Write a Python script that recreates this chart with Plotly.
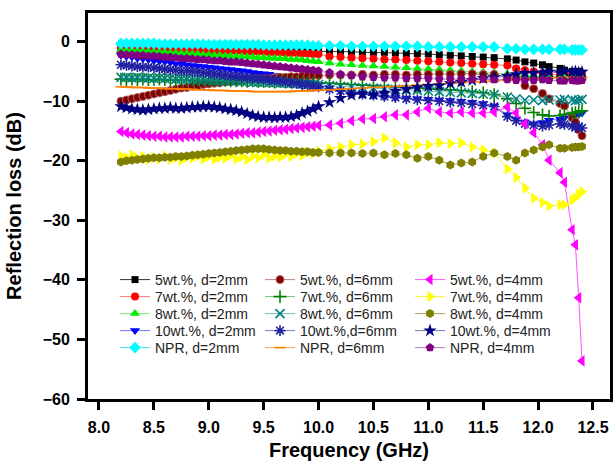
import plotly.graph_objects as go

# ---------------- data ----------------
freq = [8.20, 8.25, 8.30, 8.35, 8.40, 8.45, 8.50, 8.55, 8.60, 8.65, 8.70, 8.75, 8.80,
        8.85, 8.90, 8.95, 9.00, 9.05, 9.10, 9.15, 9.20, 9.25, 9.30, 9.35, 9.40, 9.45,
        9.50, 9.55, 9.60, 9.65, 9.70, 9.75, 9.80, 9.85, 9.90, 9.95, 10.00,
        10.1, 10.2, 10.3, 10.4, 10.5, 10.6, 10.7, 10.8, 10.9, 11.0, 11.1, 11.2, 11.3,
        11.4, 11.5, 11.6,
        11.72, 11.80, 11.88, 11.96, 12.04, 12.10,
        12.20, 12.24, 12.31, 12.34, 12.37, 12.40]

rl_5wt_2mm = [-1.0, -1.0, -1.0, -1.1, -1.1, -1.1, -1.1, -1.2, -1.2, -1.2, -1.2, -1.2, -1.3,
              -1.3, -1.3, -1.3, -1.3, -1.3, -1.4, -1.4, -1.4, -1.4, -1.4, -1.4, -1.4, -1.5,
              -1.5, -1.5, -1.5, -1.5, -1.5, -1.5, -1.6, -1.6, -1.6, -1.6, -1.6,
              -1.7, -1.7, -1.7, -1.8, -1.8, -1.8, -1.9, -2.0, -2.0, -2.1, -2.2, -2.3, -2.4,
              -2.5, -2.6, -2.7,
              -2.9, -3.1, -3.4, -3.6, -3.9, -4.2,
              -4.5, -4.8, -5.0, -5.2, -5.0, -5.3]
rl_7wt_2mm = [-1.2, -1.2, -1.2, -1.2, -1.3, -1.3, -1.3, -1.3, -1.3, -1.4, -1.4, -1.4, -1.4,
              -1.4, -1.5, -1.5, -1.5, -1.5, -1.5, -1.6, -1.6, -1.6, -1.6, -1.7, -1.7, -1.7,
              -1.7, -1.8, -1.8, -1.8, -1.9, -1.9, -1.9, -2.0, -2.0, -2.1, -2.1,
              -2.5, -2.6, -2.7, -2.8, -2.9, -3.0, -3.0, -3.1, -3.2, -3.3, -3.4, -3.5, -3.6,
              -3.7, -3.8, -3.9,
              -4.0, -4.5, -4.8, -5.0, -5.3, -5.6,
              -5.5, -5.6, -5.4, -5.6, -5.5, -5.7]
rl_8wt_2mm = [-1.4, -1.5, -1.5, -1.6, -1.6, -1.7, -1.7, -1.8, -1.8, -1.9, -1.9, -2.0, -2.0,
              -2.1, -2.1, -2.2, -2.2, -2.3, -2.3, -2.4, -2.4, -2.5, -2.5, -2.6, -2.6, -2.7,
              -2.7, -2.8, -2.8, -2.9, -2.9, -3.0, -3.0, -3.1, -3.2, -3.3, -3.4,
              -3.6, -3.8, -3.9, -4.0, -4.1, -4.2, -4.3, -4.4, -4.5, -4.6, -4.7, -4.8, -4.9,
              -5.0, -5.1, -5.2,
              -5.4, -5.5, -5.6, -5.7, -5.8, -5.9,
              -5.8, -5.9, -6.0, -5.9, -6.0, -6.1]
rl_10wt_2mm = [-2.3, -2.5, -2.6, -2.8, -2.9, -3.0, -3.2, -3.3, -3.4, -3.5, -3.7, -3.8, -3.9,
               -4.0, -4.1, -4.2, -4.3, -4.4, -4.5, -4.6, -4.7, -4.8, -4.9, -5.0, -5.2, -5.3,
               -5.4, -5.5, -5.7, -5.8, -6.0, -6.2, -6.4, -6.6, -6.8, -7.0, -7.2,
               -7.8, -8.3, -8.6, -8.9, -9.1, -9.3, -9.4, -9.5, -9.6, -9.7, -9.8, -9.9, -10.0,
               -10.2, -10.4, -10.8,
               -12.3, -13.0, -13.5, -13.8, -13.6, -13.2,
               -13.0, -12.8, -12.5, -12.3, -12.2, -12.0]
rl_npr_2mm = [-0.3, -0.3, -0.3, -0.3, -0.3, -0.3, -0.3, -0.4, -0.4, -0.4, -0.4, -0.4, -0.4,
              -0.4, -0.4, -0.4, -0.5, -0.5, -0.5, -0.5, -0.5, -0.5, -0.5, -0.5, -0.5, -0.5,
              -0.6, -0.6, -0.6, -0.6, -0.6, -0.6, -0.6, -0.6, -0.6, -0.7, -0.7,
              -0.7, -0.7, -0.8, -0.8, -0.8, -0.8, -0.8, -0.8, -0.8, -0.9, -0.9, -0.9, -0.9,
              -0.9, -0.9, -0.9,
              -1.2, -1.2, -1.3, -1.3, -1.3, -1.3,
              -1.3, -1.3, -1.4, -1.4, -1.4, -1.4]

rl_5wt_6mm = [-10.0, -9.8, -9.6, -9.4, -9.2, -9.0, -8.8, -8.6, -8.4, -8.2, -8.0, -7.8, -7.7,
              -7.5, -7.4, -7.2, -7.1, -7.0, -6.9, -6.8, -6.7, -6.6, -6.5, -6.4, -6.4, -6.3,
              -6.2, -6.2, -6.1, -6.0, -6.0, -5.9, -5.9, -5.8, -5.8, -5.7, -5.7,
              -5.6, -5.6, -5.6, -5.5, -5.6, -5.5, -5.5, -5.6, -5.5, -5.5, -5.4, -5.5, -5.4,
              -5.4, -5.5, -5.5,
              -5.9, -6.1, -7.4, -7.9, -8.7, -9.6,
              -10.4, -10.8, -12.8, -13.5, -14.8, -15.8]
rl_7wt_6mm = [-6.3, -6.4, -6.3, -6.4, -6.3, -6.4, -6.4, -6.3, -6.4, -6.4, -6.5, -6.4, -6.4,
              -6.5, -6.4, -6.5, -6.5, -6.5, -6.6, -6.5, -6.6, -6.6, -6.6, -6.7, -6.6, -6.7,
              -6.7, -6.7, -6.8, -6.7, -6.8, -6.8, -6.8, -6.9, -6.9, -6.9, -7.0,
              -7.0, -7.1, -7.2, -7.3, -7.4, -7.5, -7.6, -7.7, -7.8, -7.9, -8.0, -8.1, -8.2,
              -8.4, -8.6, -8.9,
              -9.6, -10.4, -11.2, -11.9, -12.3, -12.5,
              -12.4, -12.2, -12.0, -11.9, -11.8, -11.6]
rl_8wt_6mm = [-6.0, -6.0, -6.1, -6.0, -6.1, -6.1, -6.2, -6.1, -6.2, -6.2, -6.3, -6.3, -6.3,
              -6.4, -6.4, -6.4, -6.5, -6.5, -6.5, -6.6, -6.6, -6.6, -6.7, -6.7, -6.8, -6.8,
              -6.8, -6.9, -6.9, -7.0, -7.0, -7.0, -7.1, -7.1, -7.2, -7.2, -7.2,
              -7.4, -7.5, -7.6, -7.7, -7.8, -7.9, -8.0, -8.1, -8.2, -8.3, -8.4, -8.5, -8.6,
              -8.7, -8.8, -8.9,
              -9.3, -9.6, -9.8, -9.8, -9.9, -9.8,
              -9.8, -9.7, -9.8, -9.9, -9.8, -9.7]
rl_10wt_6mm = [-3.9, -4.0, -4.1, -4.2, -4.3, -4.3, -4.4, -4.5, -4.6, -4.7, -4.8, -4.9, -4.9,
               -5.0, -5.1, -5.2, -5.3, -5.4, -5.5, -5.6, -5.7, -5.8, -5.9, -6.0, -6.1, -6.2,
               -6.3, -6.4, -6.5, -6.6, -6.8, -6.9, -7.0, -7.2, -7.3, -7.5, -7.6,
               -8.0, -8.3, -8.6, -8.8, -9.0, -9.2, -9.4, -9.6, -9.8, -9.9, -10.0, -10.2, -10.3,
               -10.5, -10.7, -10.9,
               -12.6, -13.3, -13.8, -14.0, -14.2, -14.0,
               -13.8, -13.9, -14.2, -14.4, -14.3, -14.5]
rl_npr_6mm = [-7.6, -7.6, -7.7, -7.7, -7.7, -7.8, -7.8, -7.8, -7.9, -7.9, -7.9, -8.0, -8.0,
              -8.0, -8.1, -8.1, -8.1, -8.2, -8.2, -8.2, -8.3, -8.3, -8.3, -8.3, -8.4, -8.4,
              -8.4, -8.4, -8.4, -8.4, -8.4, -8.4, -8.3, -8.3, -8.3, -8.2, -8.2,
              -8.1, -8.0, -7.9, -7.8, -7.7, -7.6, -7.5, -7.4, -7.3, -7.2, -7.1, -7.0, -6.9,
              -6.8, -6.7, -6.6,
              -6.4, -6.3, -6.2, -6.2, -6.1, -6.1,
              -6.0, -6.0, -6.0, -6.1, -6.0, -6.0]

rl_5wt_4mm = [-15.1, -15.3, -15.5, -15.6, -15.7, -15.8, -15.9, -15.9, -16.0, -16.0, -16.0, -16.0, -15.9,
              -15.9, -15.9, -15.8, -15.8, -15.7, -15.7, -15.6, -15.6, -15.5, -15.4, -15.3, -15.3, -15.2,
              -15.1, -15.0, -14.9, -14.8, -14.7, -14.6, -14.5, -14.4, -14.3, -14.2, -14.1,
              -14.0, -13.7, -13.3, -13.0, -12.9, -12.6, -12.3, -12.3, -11.8, -11.2, -11.8, -12.0, -11.8,
              -12.0, -12.0, -11.8,
              -11.0, -12.0, -13.8, -15.3, -17.3, -19.9,
              -22.0, -23.6, -31.6, -34.1, -43.0, -53.6]
rl_7wt_4mm = [-19.2, -19.5, -19.0, -19.6, -19.3, -19.8, -19.4, -19.7, -19.2, -19.8, -19.5, -19.9, -19.4,
              -19.6, -19.2, -19.7, -19.3, -19.8, -19.4, -19.6, -19.1, -19.7, -19.3, -19.8, -19.2, -19.5,
              -19.0, -19.6, -19.2, -19.4, -18.9, -19.3, -18.8, -19.1, -18.6, -18.8, -18.4,
              -18.0, -17.7, -17.3, -17.2, -16.8, -16.2, -17.0, -17.7, -17.3, -17.3, -17.0, -17.1, -17.0,
              -17.7, -18.2, -18.7,
              -21.4, -22.8, -24.6, -26.3, -27.0, -27.6,
              -27.4, -27.4, -26.6, -26.2, -25.6, -25.2]
rl_8wt_4mm = [-20.2, -20.0, -19.9, -19.8, -19.7, -19.6, -19.5, -19.5, -19.4, -19.4, -19.3, -19.3, -19.2,
              -19.1, -19.0, -18.9, -18.8, -18.7, -18.6, -18.5, -18.4, -18.3, -18.2, -18.1, -18.0, -18.0,
              -18.0, -18.1, -18.2, -18.3, -18.3, -18.4, -18.4, -18.5, -18.5, -18.6, -18.6,
              -18.7, -18.7, -18.7, -18.8, -18.7, -19.0, -18.8, -19.0, -19.6, -19.3, -19.9, -20.7, -20.4,
              -20.2, -19.3, -18.7,
              -19.3, -19.9, -18.7, -18.2, -17.7, -17.3,
              -17.9, -17.9, -17.8, -17.7, -17.7, -17.6]
rl_10wt_4mm = [-10.9, -11.1, -11.3, -11.4, -11.5, -11.4, -11.3, -11.2, -11.2, -11.1, -11.2, -11.2, -11.1,
               -11.0, -11.0, -10.9, -10.9, -11.0, -11.1, -11.3, -11.4, -11.6, -11.8, -12.1, -12.4, -12.6,
               -12.7, -12.7, -12.8, -12.7, -12.7, -12.6, -12.4, -12.0, -11.7, -11.3, -10.9,
               -10.2, -9.5, -9.0, -8.8, -8.9, -8.6, -8.3, -8.0, -7.7, -7.5, -7.4, -7.0, -6.8,
               -6.5, -6.2, -6.0,
               -5.8, -5.5, -5.3, -5.3, -5.2, -5.1,
               -5.2, -5.0, -5.1, -5.0, -5.2, -5.1]
rl_npr_4mm = [-2.1, -2.2, -2.2, -2.3, -2.3, -2.4, -2.4, -2.5, -2.6, -2.6, -2.7, -2.8, -2.8,
              -2.9, -3.0, -3.0, -3.1, -3.2, -3.2, -3.3, -3.4, -3.4, -3.5, -3.6, -3.7, -3.8,
              -3.9, -4.0, -4.1, -4.2, -4.3, -4.4, -4.5, -4.6, -4.7, -4.8, -4.9,
              -5.2, -5.5, -5.7, -5.9, -6.0, -6.1, -6.1, -6.2, -6.2, -6.2, -6.3, -6.3, -6.3,
              -6.3, -6.3, -6.4,
              -6.4, -6.5, -6.5, -6.5, -6.4, -6.5,
              -6.6, -6.6, -6.5, -6.6, -6.6, -6.5]

x_ticks = [8.0, 8.5, 9.0, 9.5, 10.0, 10.5, 11.0, 11.5, 12.0, 12.5]
y_ticks = [0, -10, -20, -30, -40, -50, -60]

# ---------------- styling ----------------
# (name, values, marker color, line color, symbol, size, legend column, legend row)
series = [
    ("5wt.%, d=2mm", rl_5wt_2mm, "#000000", "rgba(0,0,0,0.8)", "square", 7, 0, 0),
    ("7wt.%, d=2mm", rl_7wt_2mm, "#ff0000", "rgba(255,60,60,0.7)", "circle", 8, 0, 1),
    ("8wt.%, d=2mm", rl_8wt_2mm, "#00ee00", "rgba(60,230,60,0.7)", "triangle-up", 9, 0, 2),
    ("10wt.%, d=2mm", rl_10wt_2mm, "#0000ff", "rgba(60,60,255,0.7)", "triangle-down", 9, 0, 3),
    ("NPR, d=2mm", rl_npr_2mm, "#00ffff", "rgba(0,230,230,0.8)", "diamond", 9, 0, 4),
    ("5wt.%, d=6mm", rl_5wt_6mm, "#800000", "rgba(160,80,80,0.7)", "circle", 8, 1, 0),
    ("7wt.%, d=6mm", rl_7wt_6mm, "#008000", "rgba(60,160,60,0.7)", "cross-thin", 9, 1, 1),
    ("8wt.%, d=6mm", rl_8wt_6mm, "#008080", "rgba(60,160,160,0.7)", "x-thin", 9, 1, 2),
    ("10wt.%,d=6mm", rl_10wt_6mm, "#2020a0", "rgba(70,70,200,0.7)", "asterisk", 9, 1, 3),
    ("NPR, d=6mm", rl_npr_6mm, "#ff8000", "rgba(255,140,40,0.8)", "line-ew", 8, 1, 4),
    ("5wt.%, d=4mm", rl_5wt_4mm, "#ff00ff", "rgba(255,40,255,0.8)", "triangle-left", 10, 2, 0),
    ("7wt.%, d=4mm", rl_7wt_4mm, "#ffff00", "rgba(240,240,0,0.8)", "triangle-right", 10, 2, 1),
    ("8wt.%, d=4mm", rl_8wt_4mm, "#808000", "rgba(128,128,0,0.7)", "hexagon", 9, 2, 2),
    ("10wt.%, d=4mm", rl_10wt_4mm, "#000080", "rgba(60,60,160,0.7)", "star", 10, 2, 3),
    ("NPR, d=4mm", rl_npr_4mm, "#800080", "rgba(150,60,150,0.7)", "pentagon", 9, 2, 4),
]

# plot area in pixels (for legend placement)
W, H = 615, 468
ML, MR, MT, MB = 88, 5, 13, 69
PW, PH = W - ML - MR, H - MT - MB
leg_col_px = [115, 260, 410]
leg_row_px = [280, 297, 314, 331, 348]

fig = go.Figure()
layout_legends = {}
for i, (name, vals, mcol, lcol, sym, size, col, row) in enumerate(series):
    lid = "legend" if i == 0 else f"legend{i + 1}"
    thin = sym in ("cross-thin", "x-thin", "asterisk", "line-ew")
    marker = dict(symbol=sym, size=size, color=mcol,
                  line=dict(width=1.6 if thin else 0, color=mcol))
    if sym == "circle" and mcol == "#800000":
        marker["line"] = dict(width=1, color="#b06060")
    fig.add_trace(go.Scatter(
        x=freq, y=vals, name=name, mode="lines+markers",
        line=dict(color=lcol, width=1),
        marker=marker, legend=lid))
    layout_legends[lid] = dict(
        x=(leg_col_px[col] - ML) / PW, y=(H - MB - leg_row_px[row]) / PH,
        xanchor="left", yanchor="middle",
        bgcolor="rgba(0,0,0,0)", borderwidth=0,
        font=dict(family="Liberation Sans, Arial", size=14, color="#222"),
    )

axis_font = dict(family="Liberation Sans, Arial", size=16, color="black", weight="bold")
title_font = dict(family="Liberation Sans, Arial", size=20, color="black", weight="bold")

fig.update_layout(
    width=W, height=H,
    margin=dict(l=ML, r=MR, t=MT, b=MB, autoexpand=False),
    paper_bgcolor="white", plot_bgcolor="white",
    showlegend=True,
    **layout_legends,
)
fig.update_xaxes(
    range=[7.9, 12.655], tickvals=x_ticks, tickformat=".1f",
    showline=True, mirror=True, linewidth=3, linecolor="black",
    ticks="outside", ticklen=8, tickwidth=2.5, tickcolor="black",
    ticklabelstandoff=4, automargin=False,
    showgrid=False, zeroline=False, tickfont=axis_font,
    title=dict(text="Frequency (GHz)", font=title_font, standoff=8),
)
fig.update_yaxes(
    range=[-60, 4.8], tickvals=y_ticks,
    showline=True, mirror=True, linewidth=3, linecolor="black",
    ticks="outside", ticklen=8, tickwidth=2.5, tickcolor="black",
    ticklabelstandoff=4, automargin=False,
    showgrid=False, zeroline=False, tickfont=axis_font,
    title=dict(text="Reflection loss (dB)", font=title_font, standoff=16),
)

fig.write_html("out.html",
               config={"displayModeBar": False},
               post_script="document.body.style.margin='0';document.body.style.overflow='hidden';")
